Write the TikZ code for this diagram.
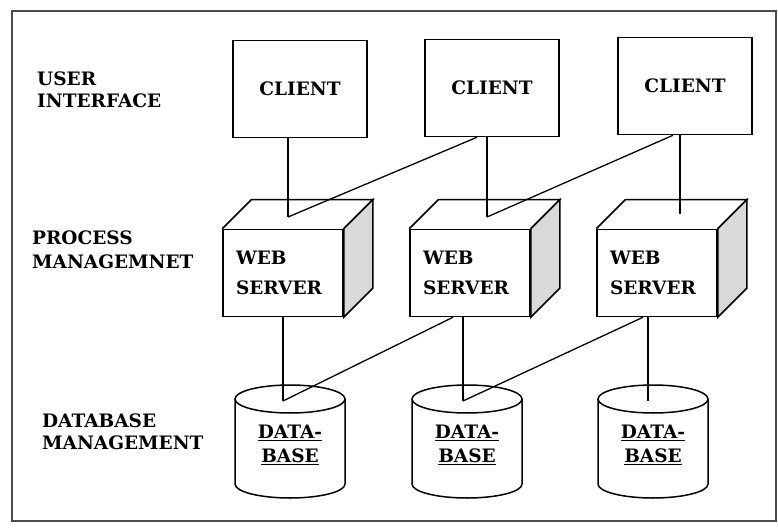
\documentclass[tikz,border=0pt]{standalone}
\usepackage{fontspec}
\setmainfont{DejaVu Serif}
\usetikzlibrary{calc}

% server cube: front face is the node, top and side faces drawn from its corners
\newcommand{\srvcube}[1]{%
  \draw[box] (#1.north west) -- ++(29,29) -- ($(#1.north east)+(29,29)$) -- (#1.north east);
  \draw[box,fill=gray!30] (#1.north east) -- ++(29,29) -- ($(#1.south east)+(29,29)$) -- (#1.south east) -- cycle;}
% database drum round the text node
\newcommand{\dbdrum}[1]{%
  \draw[box] ($(#1)+(-55,46)$) -- ($(#1)+(-55,-39)$) arc[start angle=180,end angle=360,x radius=55,y radius=14] -- ($(#1)+(55,46)$);
  \draw[box] ($(#1)+(0,46)$) ellipse[x radius=55,y radius=14];}

\tikzset{
  box/.style={line width=1.5pt},
  client/.style={box,draw,minimum width=134pt,minimum height=97pt,font=\fontsize{18.5}{24}\selectfont\bfseries},
  server/.style={box,draw,fill=white,minimum width=120pt,minimum height=87pt,text width=94pt,
    inner xsep=13pt,align=left,font=\fontsize{18.5}{30}\selectfont\bfseries},
  dbtext/.style={inner sep=0pt,align=center,font=\fontsize{18.5}{24}\selectfont\bfseries},
  layer/.style={inner sep=0pt,anchor=west,align=left,font=\fontsize{18.5}{22}\selectfont\bfseries},
  link/.style={line width=1.3pt}
}

\begin{document}
\begin{tikzpicture}[x=1pt,y=1pt]
    \useasboundingbox (0,0) rectangle (778,-529);
    % Draw frame
    \draw[line width=1.6pt,black!70] (12,-11) rectangle (776,-521);
    % Draw layer names
    \node[layer] (ui) at (37,-90) {USER\\INTERFACE};
    \node[layer] (pm) at (32,-250) {PROCESS\\[2pt]MANAGEMNET};
    \node[layer] (dm) at (42,-432) {DATABASE\\MANAGEMENT};
    % Draw clients
    \node[client] (c1) at (300,-89) {CLIENT};
    \node[client] (c2) at (492,-88) {CLIENT};
    \node[client] (c3) at (685,-86) {CLIENT};
    % Draw web servers
    \node[server] (s1) at (283,-273) {WEB\\SERVER};
    \node[server] (s2) at (470,-273) {WEB\\SERVER};
    \node[server] (s3) at (657,-273) {WEB\\SERVER};
    \srvcube{s1} \srvcube{s2} \srvcube{s3}
    % Draw databases
    \node[dbtext] (d1) at (290,-445) {\underline{DATA-}\\\underline{BASE}};
    \node[dbtext] (d2) at (467,-445) {\underline{DATA-}\\\underline{BASE}};
    \node[dbtext] (d3) at (653,-445) {\underline{DATA-}\\\underline{BASE}};
    \dbdrum{d1} \dbdrum{d2} \dbdrum{d3}
    % Ends of the links on the server tops and the drum tops
    \coordinate (t1) at (288,-217);
    \coordinate (t2) at (487,-217);
    \coordinate (t3) at (680,-214);
    \coordinate (b1) at (283,-401);
    \coordinate (b2) at (463,-401);
    \coordinate (b3) at (648,-401);
    % Client to server links
    \draw[link] (c1.south -| t1) -- (t1);
    \draw[link] (c2.south -| t2) -- (t2);
    \draw[link] (c3.south -| t3) -- (t3);
    \draw[link] ($(c2.south)+(-15,0)$) -- (t1); % cross link
    \draw[link] ($(c3.south)+(-12,0)$) -- (t2); % cross link
    % Server to database links
    \draw[link] (s1.south -| b1) -- (b1);
    \draw[link] (s2.south -| b2) -- (b2);
    \draw[link] (s3.south -| b3) -- (b3);
    \draw[link] ($(s2.south)+(-17,0)$) -- (b1); % cross link
    \draw[link] ($(s3.south)+(-14,0)$) -- (b2); % cross link
\end{tikzpicture}
\end{document}
